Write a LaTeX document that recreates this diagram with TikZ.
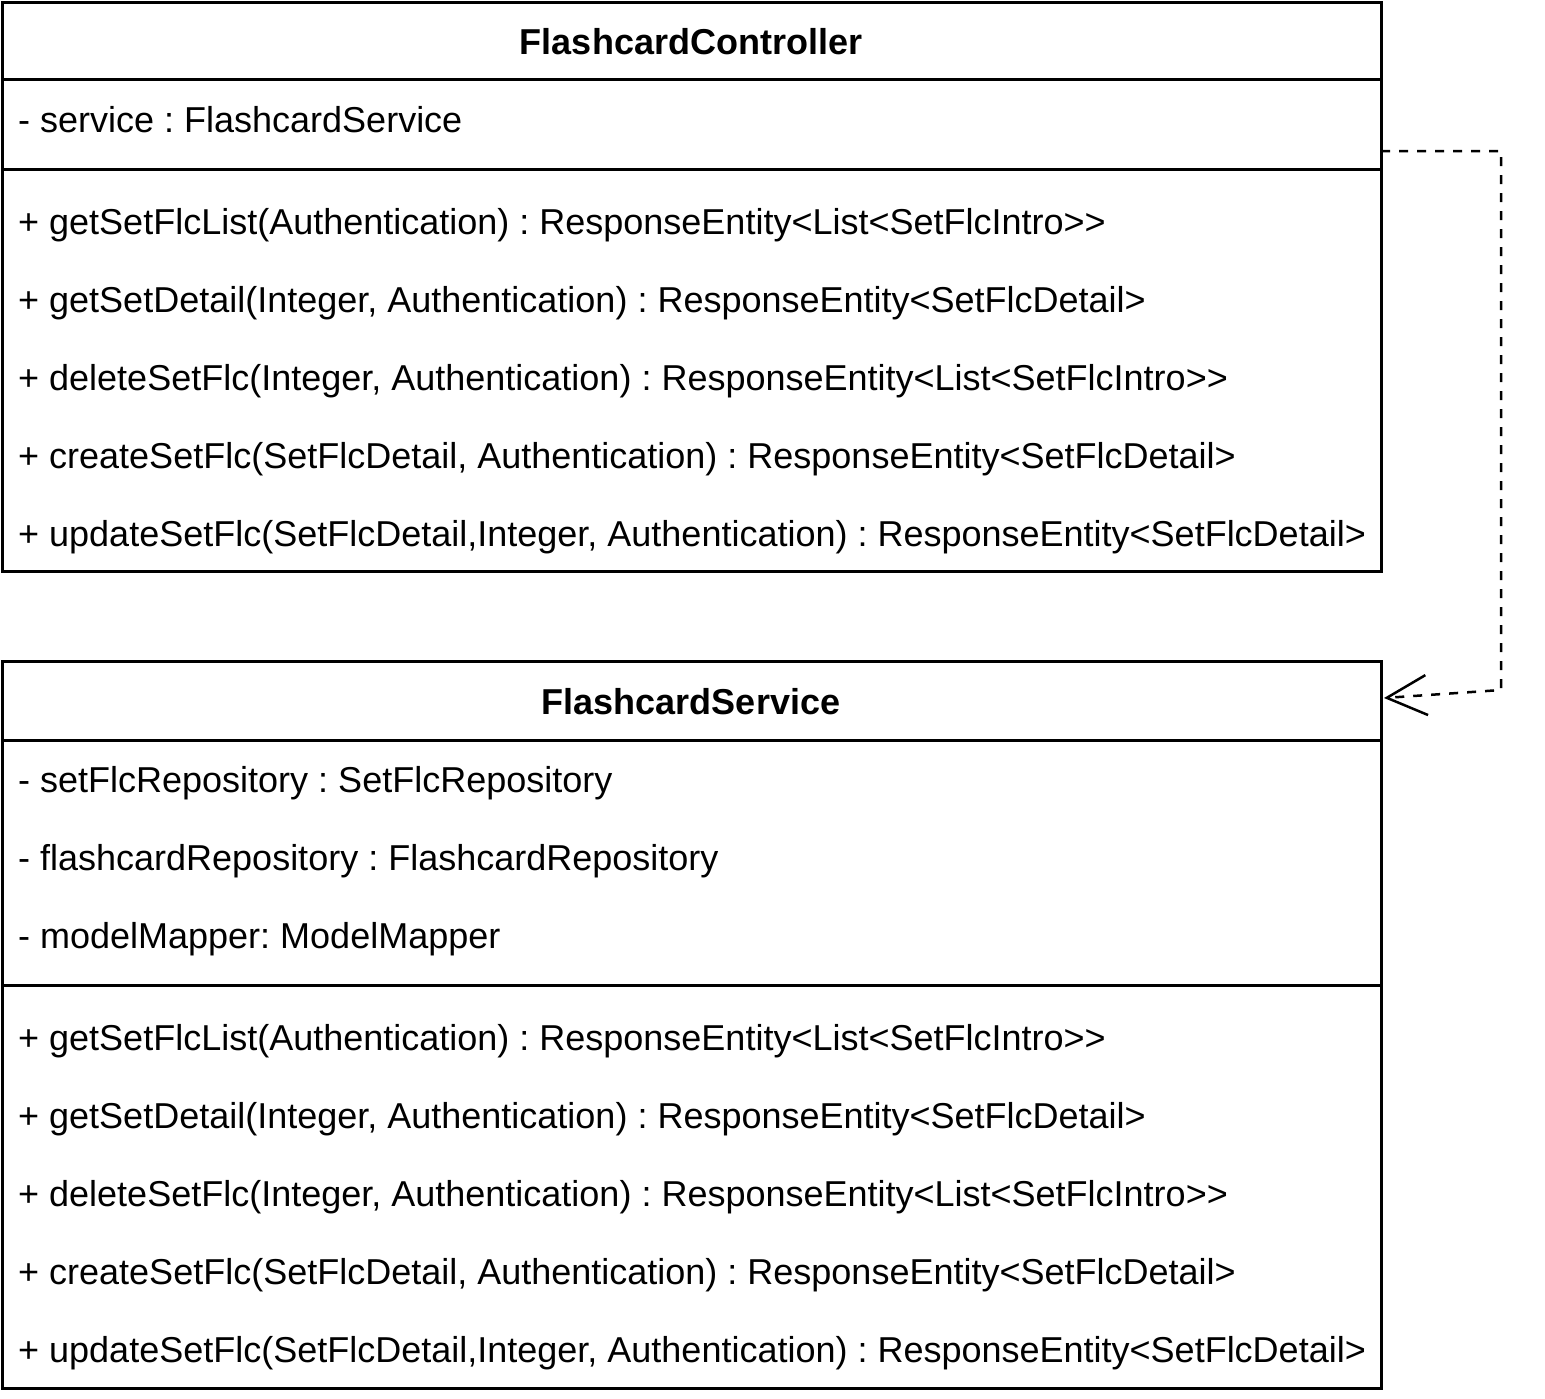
\documentclass[tikz,border=0pt]{standalone}
\usepackage{fontspec}
\setmainfont{Liberation Sans}
\usetikzlibrary{arrows.meta,positioning}
\frenchspacing

\begin{document}
\begin{tikzpicture}[
  x=1pt, y=-1pt,
  classbox/.style={draw, line width=3pt, inner sep=0pt, outer sep=0pt, anchor=north west, minimum width=1379pt},
  member/.style={anchor=base west, inner sep=0pt, font=\fontsize{36}{43}\selectfont},
  classname/.style={anchor=base, inner sep=0pt, font=\fontsize{36}{43}\selectfont\bfseries},
  sep/.style={line width=3pt},
  dep/.style={dashed, dash pattern=on 9pt off 9pt, line width=2.5pt, -{Straight Barb[length=40pt, width=40pt]}}
]
\useasboundingbox (0,0) rectangle (1545,1398);

% FlashcardController
\node[classbox, minimum height=569pt] (ctrl) at (2,2) {};
\node[classname] (ctrlname) at (691,54) {FlashcardController};
\draw[sep] (ctrl.west |- 0,79) -- (ctrl.east |- 0,79);
\draw[sep] (ctrl.west |- 0,169) -- (ctrl.east |- 0,169);
\node[member] (ca1) at (18,132) {- service : FlashcardService};
\node[member] (cm1) at (18,234) {+ getSetFlcList(Authentication) : ResponseEntity<List<SetFlcIntro>{}>};
\node[member] (cm2) at (18,312) {+ getSetDetail(Integer, Authentication) : ResponseEntity<SetFlcDetail>};
\node[member] (cm3) at (18,390) {+ deleteSetFlc(Integer, Authentication) : ResponseEntity<List<SetFlcIntro>{}>};
\node[member] (cm4) at (18,468) {+ createSetFlc(SetFlcDetail, Authentication) : ResponseEntity<SetFlcDetail>};
\node[member] (cm5) at (18,546) {+ updateSetFlc(SetFlcDetail,Integer, Authentication) : ResponseEntity<SetFlcDetail>};

% FlashcardService
\node[classbox, minimum height=727pt] (svc) at (2,661) {};
\node[classname] (svcname) at (691,714) {FlashcardService};
\draw[sep] (svc.west |- 0,740) -- (svc.east |- 0,740);
\draw[sep] (svc.west |- 0,985) -- (svc.east |- 0,985);
\node[member] (sa1) at (18,792) {- setFlcRepository : SetFlcRepository};
\node[member] (sa2) at (18,870) {- flashcardRepository : FlashcardRepository};
\node[member] (sa3) at (18,948) {- modelMapper: ModelMapper};
\node[member] (sm1) at (18,1050) {+ getSetFlcList(Authentication) : ResponseEntity<List<SetFlcIntro>{}>};
\node[member] (sm2) at (18,1128) {+ getSetDetail(Integer, Authentication) : ResponseEntity<SetFlcDetail>};
\node[member] (sm3) at (18,1206) {+ deleteSetFlc(Integer, Authentication) : ResponseEntity<List<SetFlcIntro>{}>};
\node[member] (sm4) at (18,1284) {+ createSetFlc(SetFlcDetail, Authentication) : ResponseEntity<SetFlcDetail>};
\node[member] (sm5) at (18,1362) {+ updateSetFlc(SetFlcDetail,Integer, Authentication) : ResponseEntity<SetFlcDetail>};

% dependency
\coordinate (depturn) at (1501,690);
\draw[dep] (ctrl.east |- 0,151) -- (depturn |- 0,151) -- (depturn) -- ([xshift=3pt]svc.east |- 0,698);
\end{tikzpicture}
\end{document}
